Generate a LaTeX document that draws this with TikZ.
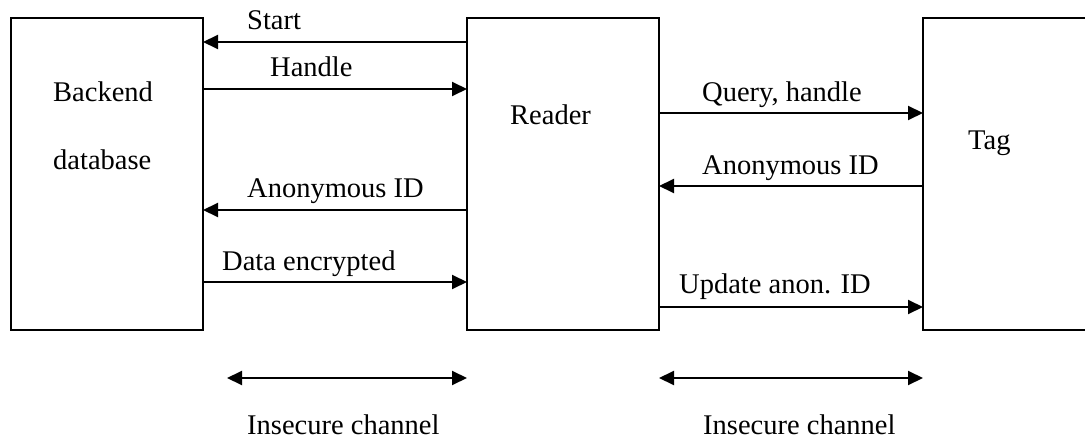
\documentclass[tikz,border=0pt]{standalone}
\usepackage{fontspec}
\setmainfont{Liberation Serif}
\usetikzlibrary{arrows.meta}
\begin{document}
\begin{tikzpicture}[x=1pt,y=-1pt,
  box/.style={draw,line width=2.2pt,minimum width=192pt,minimum height=312pt,inner sep=0pt,outer sep=0pt},
  arr/.style={line width=2pt,-{Triangle[length=15pt,width=14pt]}},
  darr/.style={line width=2pt,{Triangle[length=15pt,width=14pt]}-{Triangle[length=15pt,width=14pt]}},
  lbl/.style={anchor=base west,inner sep=0pt,font=\fontsize{28.5}{34}\selectfont}]
\useasboundingbox (0,0) rectangle (1085,441);
\clip (0,0) rectangle (1085,441);
% boxes
\node[box] (backend) at (107,174) {};
\node[box] (reader) at (563,174) {};
\node[box,minimum width=200pt] (tag) at (1023,174) {};
% box texts
\node[lbl] (tbackend) at (53,102) {Backend};
\node[lbl] (tdatabase) at (53,170) {database};
\node[lbl] (treader) at (510,125) {Reader};
\node[lbl] (ttag) at (968,150) {Tag};
% left arrows
\draw[arr] (reader.west |- 0,42) -- (backend.east |- 0,42);
\node[lbl] (lstart) at (247,30) {Start};
\draw[arr] (backend.east |- 0,89) -- (reader.west |- 0,89);
\node[lbl] (lhandle) at (270,77) {Handle};
\draw[arr] (reader.west |- 0,210) -- (backend.east |- 0,210);
\node[lbl] (lanon1) at (247,197) {Anonymous ID};
\draw[arr] (backend.east |- 0,282) -- (reader.west |- 0,282);
\node[lbl] (ldata) at (222,270) {Data encrypted};
% right arrows
\draw[arr] (reader.east |- 0,113) -- (tag.west |- 0,113);
\node[lbl] (lquery) at (702,102) {Query, handle};
\draw[arr] (tag.west |- 0,186) -- (reader.east |- 0,186);
\node[lbl] (lanon2) at (702,175) {Anonymous ID};
\draw[arr] (reader.east |- 0,307) -- (tag.west |- 0,307);
\node[lbl] (lupdate) at (679,293) {Update anon. ID};
% channels
\coordinate (chl) at (227,378);
\draw[darr] (chl) -- (reader.west |- chl);
\node[lbl] (lch1) at (247,434) {Insecure channel};
\draw[darr] (reader.east |- 0,378) -- (tag.west |- 0,378);
\node[lbl] (lch2) at (703,434) {Insecure channel};
\end{tikzpicture}
\end{document}
